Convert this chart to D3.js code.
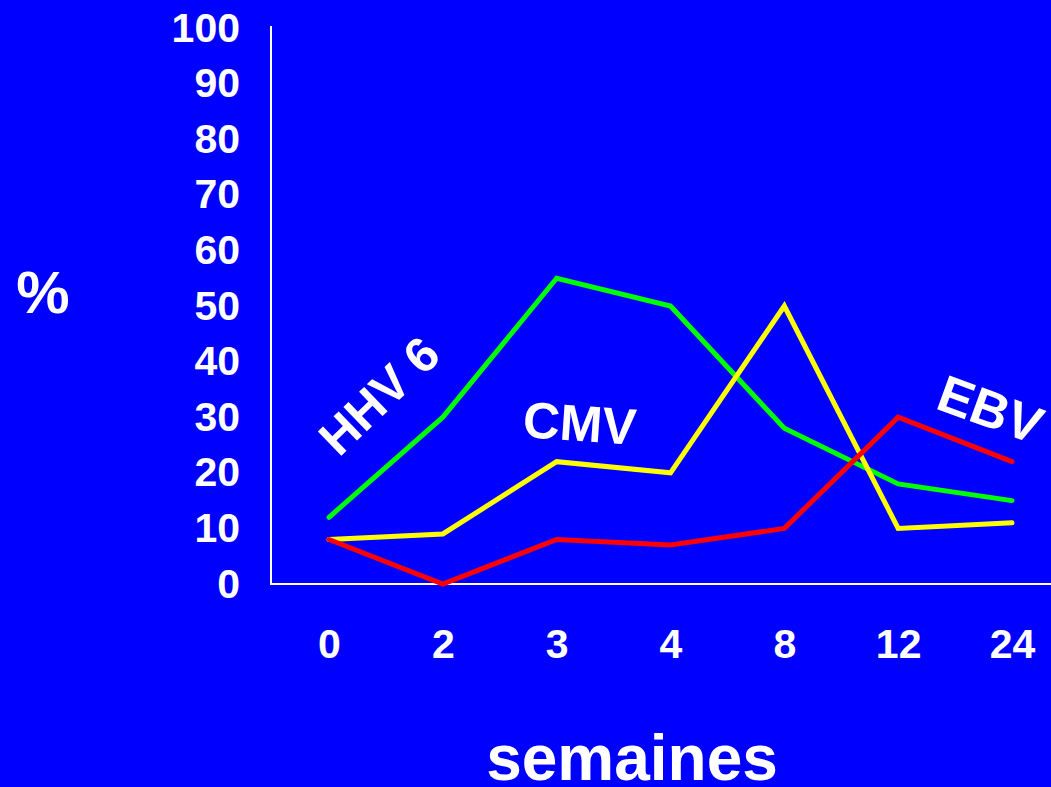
<!DOCTYPE html>
<html>
<head>
<meta charset="utf-8">
<script src="https://cdn.jsdelivr.net/npm/d3@7"></script>
<style>
  html, body { margin: 0; padding: 0; background: #0000FF; }
  svg { display: block; }
  text { font-family: "Liberation Sans", Arial, sans-serif; font-weight: bold; fill: #fff; }
</style>
</head>
<body>
<svg id="chart" width="1051" height="787"></svg>
<script>
// Weeks after transplant
const weeks = ["0", "2", "3", "4", "8", "12", "24"];
// Detection rate (%) per virus
const hhv6 = [12, 30, 55, 50, 28, 18, 15];
const cmv  = [8, 9, 22, 20, 50, 10, 11];
const ebv  = [8, 0, 8, 7, 10, 30, 22];
const yTicks = [0, 10, 20, 30, 40, 50, 60, 70, 80, 90, 100];

const series = [
  { name: "HHV 6", values: hhv6, color: "#00FF00" },
  { name: "CMV",   values: cmv,  color: "#FFFF00" },
  { name: "EBV",   values: ebv,  color: "#FF0000" }
];

const svg = d3.select("#chart");
const W = 1051, H = 787;

svg.append("rect").attr("width", W).attr("height", H).attr("fill", "#0000FF");

const x = d3.scalePoint().domain(weeks).range([329, 1012]);
const y = d3.scaleLinear().domain([0, 100]).range([584, 28]);

const axisLeftX = 271, axisBottomY = 584;

// Axis lines
svg.append("line")
  .attr("x1", axisLeftX).attr("x2", axisLeftX)
  .attr("y1", 26).attr("y2", axisBottomY)
  .attr("stroke", "#fff").attr("stroke-width", 2);
svg.append("line")
  .attr("x1", axisLeftX - 1).attr("x2", W)
  .attr("y1", axisBottomY).attr("y2", axisBottomY)
  .attr("stroke", "#fff").attr("stroke-width", 2);

// Y axis labels
const gy = svg.append("g")
  .attr("transform", `translate(${axisLeftX},0)`)
  .call(d3.axisLeft(y).tickValues(yTicks).tickSize(0).tickPadding(31));
gy.select(".domain").remove();
gy.selectAll("text").attr("font-size", 41).attr("fill", "#fff")
  .style("font-family", '"Liberation Sans", Arial, sans-serif').style("font-weight", "bold");

// X axis labels
const gx = svg.append("g")
  .attr("transform", `translate(0,${axisBottomY})`)
  .call(d3.axisBottom(x).tickSize(0).tickPadding(45));
gx.select(".domain").remove();
gx.selectAll("text").attr("font-size", 41).attr("fill", "#fff")
  .style("font-family", '"Liberation Sans", Arial, sans-serif').style("font-weight", "bold");

// Series lines
const line = d3.line()
  .x((d, i) => x(weeks[i]))
  .y(d => y(d));

svg.append("g").selectAll("path")
  .data(series)
  .join("path")
  .attr("d", d => line(d.values))
  .attr("fill", "none")
  .attr("stroke", d => d.color)
  .attr("stroke-width", 5)
  .attr("stroke-linejoin", "miter")
  .attr("stroke-linecap", "round");

// Series labels
svg.append("text")
  .attr("transform", "translate(339,458) rotate(-44)")
  .attr("font-size", 49)
  .text("HHV 6");

svg.append("text")
  .attr("transform", "translate(522,437) rotate(4)")
  .attr("font-size", 51)
  .text("CMV");

svg.append("text")
  .attr("transform", "translate(934,408) rotate(20)")
  .attr("font-size", 52)
  .text("EBV");

// Axis titles
svg.append("text")
  .attr("x", 43).attr("y", 313)
  .attr("text-anchor", "middle")
  .attr("font-size", 60)
  .text("%");

svg.append("text")
  .attr("x", 632).attr("y", 780)
  .attr("text-anchor", "middle")
  .attr("font-size", 64)
  .text("semaines");
</script>
</body>
</html>
